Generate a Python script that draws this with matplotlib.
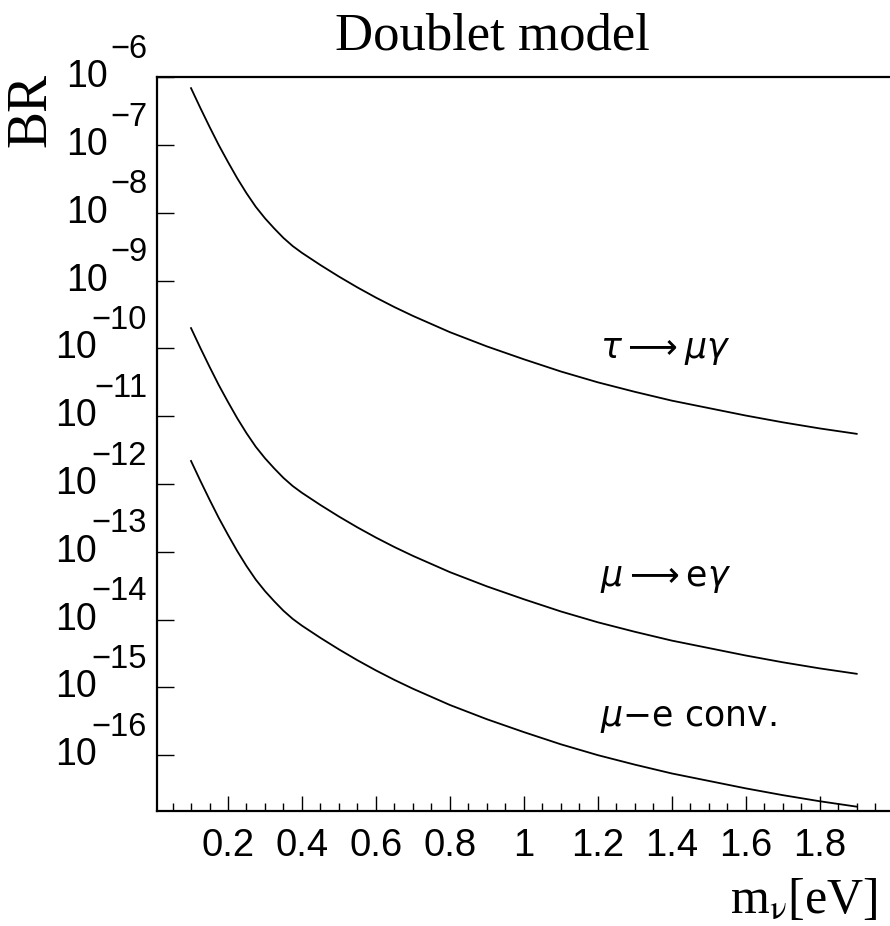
import matplotlib

matplotlib.use("Agg")

import matplotlib.pyplot as plt
import numpy as np
from matplotlib.ticker import FixedLocator, LogLocator, NullFormatter

# neutrino mass [eV]
m_nu = [0.1, 0.125, 0.15, 0.175, 0.2, 0.225, 0.25, 0.275, 0.3, 0.325, 0.35,
        0.375, 0.4, 0.45, 0.5, 0.55, 0.6, 0.65, 0.7, 0.8, 0.9,
        1.0, 1.1, 1.2, 1.3, 1.4, 1.5, 1.6, 1.7, 1.8, 1.9]

# log10(BR)
log_tau_mu_gamma = [-6.16, -6.45, -6.73, -7.00, -7.25, -7.49, -7.71, -7.91,
                    -8.08, -8.23, -8.37, -8.49, -8.59, -8.77, -8.94, -9.10,
                    -9.25, -9.39, -9.52, -9.76, -9.97, -10.16, -10.34, -10.50,
                    -10.64, -10.77, -10.88, -10.99, -11.09, -11.18, -11.26]
log_mu_e_gamma = [-9.70, -9.99, -10.27, -10.54, -10.79, -11.03, -11.25,
                  -11.45, -11.62, -11.77, -11.91, -12.03, -12.13, -12.31,
                  -12.48, -12.64, -12.79, -12.93, -13.06, -13.30, -13.51,
                  -13.70, -13.88, -14.04, -14.18, -14.31, -14.42, -14.53,
                  -14.63, -14.72, -14.80]
log_mu_e_conv = [-11.66, -11.95, -12.23, -12.50, -12.75, -12.99, -13.21,
                 -13.41, -13.58, -13.73, -13.87, -13.99, -14.09, -14.27,
                 -14.44, -14.60, -14.75, -14.89, -15.02, -15.26, -15.47,
                 -15.66, -15.84, -16.00, -16.14, -16.27, -16.38, -16.49,
                 -16.59, -16.68, -16.76]

curve_labels = [r"$\tau \longrightarrow \mu\gamma$",
                r"$\mu \longrightarrow \mathrm{e}\gamma$",
                r"$\mu$" + "\u2212e conv."]
label_log_y = [-10.03, -13.38, -15.45]

x_major = [0.2, 0.4, 0.6, 0.8, 1.0, 1.2, 1.4, 1.6, 1.8]
x_labels = ["0.2", "0.4", "0.6", "0.8", "1", "1.2", "1.4", "1.6", "1.8"]
y_decades = [-6, -7, -8, -9, -10, -11, -12, -13, -14, -15, -16]

SANS = "Liberation Sans"
SERIF = "Liberation Serif"

fig = plt.figure(figsize=(8.9, 9.26), dpi=100)
ax = fig.add_axes([157 / 890, 1 - 811 / 926, 1 - 157 / 890, (811 - 77.3) / 926])

x = np.array(m_nu)
for logs in (log_tau_mu_gamma, log_mu_e_gamma, log_mu_e_conv):
    ax.plot(x, np.power(10.0, logs), color="black", linewidth=1.3)

ax.set_yscale("log")
ax.set_xlim(0.008, 1.99)
ax.set_ylim(1.5e-17, 1e-6)

for spine in ("left", "bottom", "top"):
    ax.spines[spine].set_linewidth(1.6)
ax.spines["right"].set_visible(False)

ax.xaxis.set_major_locator(FixedLocator(x_major))
ax.xaxis.set_minor_locator(FixedLocator(np.arange(0.05, 2.0, 0.05)))
ax.set_xticklabels(x_labels, fontfamily=SANS, fontsize=27.5)
ax.tick_params(axis="x", which="major", direction="in", length=11, width=1.0, pad=12)
ax.tick_params(axis="x", which="minor", direction="in", length=6, width=1.0)

ax.yaxis.set_major_locator(FixedLocator([10.0 ** d for d in y_decades]))
ax.yaxis.set_minor_locator(LogLocator(base=10, subs=np.arange(2, 10)))
ax.yaxis.set_major_formatter(NullFormatter())
ax.yaxis.set_minor_formatter(NullFormatter())
ax.tick_params(axis="y", which="major", direction="in", length=12, width=1.0)
ax.tick_params(axis="y", which="minor", direction="in", length=6, width=1.0)
ax.tick_params(top=False, right=False, which="both")

# ROOT style decade labels: big "10" with a big raised exponent
ytrans = ax.get_yaxis_transform()
for d in y_decades:
    exp = "\u2212" + str(-d)
    base_off = -49 if -d < 10 else -60
    ax.annotate("10", xy=(0, 10.0 ** d), xycoords=ytrans, xytext=(base_off, 0),
                textcoords="offset pixels", ha="right", va="center",
                fontfamily=SANS, fontsize=27, annotation_clip=False)
    ax.annotate(exp, xy=(0, 10.0 ** d), xycoords=ytrans, xytext=(-10, 28),
                textcoords="offset pixels", ha="right", va="center",
                fontfamily=SANS, fontsize=23.5, annotation_clip=False)

for text, ly in zip(curve_labels, label_log_y):
    ax.text(1.205, 10.0 ** ly, text, ha="left", va="center", fontsize=25,
            fontfamily="DejaVu Sans", math_fontfamily="dejavusans")

fig.text(492 / 890, 1 - 50 / 926, "Doublet model", ha="center", va="baseline",
         fontfamily=SERIF, fontsize=38)
fig.text(31 / 890, 1 - 110 / 926, "BR", rotation=90, ha="center", va="center",
         fontfamily=SERIF, fontsize=40)
fig.text(878 / 890, 1 - 913 / 926, r"m$_{\mathrm{\nu}}$[eV]", ha="right",
         va="baseline", fontfamily=SERIF, fontsize=36, math_fontfamily="stix")

fig.savefig("out.png", dpi=100)
plt.close(fig)
